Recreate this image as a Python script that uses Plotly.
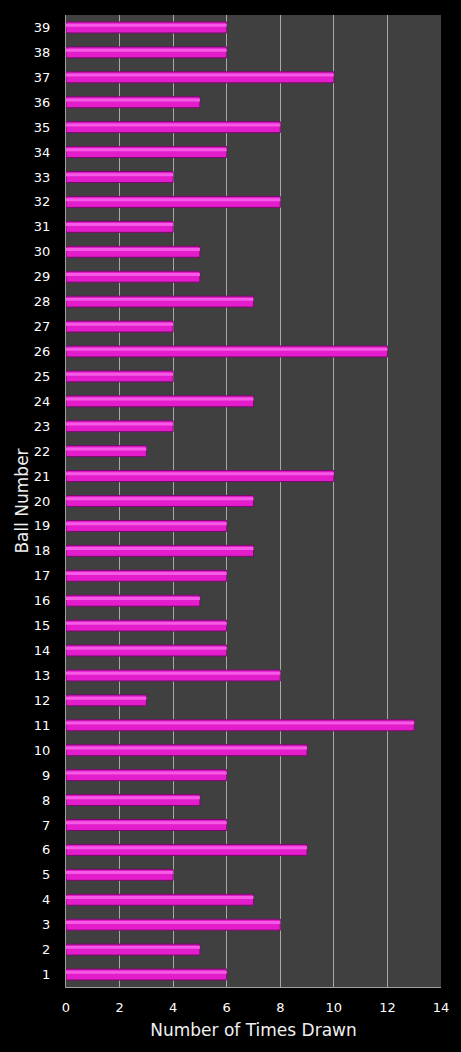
import plotly.graph_objects as go

# Ball numbers and how often each was drawn
balls = list(range(1, 40))
times_drawn = [6, 5, 8, 7, 4, 9, 6, 5, 6, 9,
               13, 3, 8, 6, 6, 5, 6, 7, 6, 7,
               10, 3, 4, 7, 4, 12, 4, 7, 5, 5,
               4, 8, 4, 6, 8, 5, 10, 6, 6]
x_ticks = [0, 2, 4, 6, 8, 10, 12, 14]

fig = go.Figure()

fig.add_trace(go.Bar(
    y=balls,
    x=times_drawn,
    orientation='h',
    width=0.44,
    marker=dict(color='#e31ccc', line=dict(color='#7a0a6c', width=1)),
    hoverinfo='x+y',
))

# lighter highlight stripe to mimic the glossy bars
fig.add_trace(go.Bar(
    y=balls,
    x=times_drawn,
    orientation='h',
    width=0.12,
    offset=0.03,
    marker=dict(color='#f55ae4', line=dict(width=0)),
    hoverinfo='skip',
))

fig.update_layout(
    width=461,
    height=1052,
    barmode='overlay',
    showlegend=False,
    paper_bgcolor='black',
    plot_bgcolor='#404040',
    margin=dict(l=66, r=20, t=15, b=65),
    font=dict(family='DejaVu Sans', color='white', size=13),
)

fig.update_xaxes(
    range=[0, 14],
    tickvals=x_ticks,
    showgrid=True,
    gridcolor='#a8a8a8',
    gridwidth=1,
    zeroline=False,
    showline=True,
    linecolor='#a0a0a0',
    ticks='',
    ticklabelstandoff=8,
    tickfont=dict(size=13, color='white'),
    title=dict(text='Number of Times Drawn', font=dict(size=17, color='#f0f0f0'), standoff=10),
)

fig.update_yaxes(
    range=[0.5, 39.5],
    tickvals=balls,
    showgrid=False,
    zeroline=False,
    showline=True,
    linecolor='#a0a0a0',
    ticks='',
    ticklabelstandoff=12,
    tickfont=dict(size=13, color='white'),
    title=dict(text='Ball Number', font=dict(size=17, color='#f0f0f0'), standoff=0),
)

# drop the default page margin so the figure fills the window
fig.write_html('out.html', config={'displayModeBar': False},
               post_script="document.body.style.margin='0';document.body.style.background='black';")
